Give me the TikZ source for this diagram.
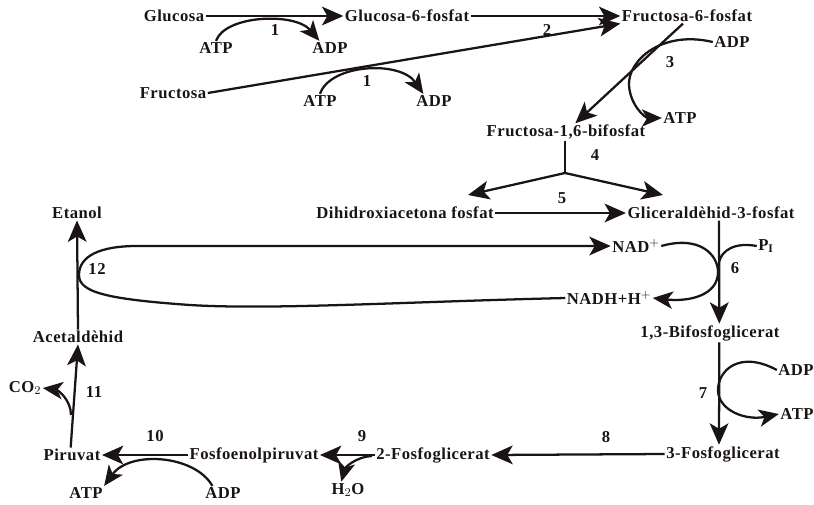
\documentclass[tikz,border=0pt]{standalone}
\usepackage{fontspec}
\setmainfont{Liberation Serif}[LetterSpace=3]
\usepackage{tikz}
\usetikzlibrary{
  arrows.meta,
  positioning,
  calc
}
\definecolor{glInk}{HTML}{1A1414}
\tikzset{
  met/.style={font=\fontsize{12.5}{14}\selectfont\bfseries, inner sep=1pt, text=glInk},
  cof/.style={met},
  num/.style={met},
  react/.style={-{Stealth[length=16pt, width=14pt, inset=4pt]}, line width=1.7pt, glInk},
  side/.style={-{Stealth[length=15pt, width=13pt, inset=4pt]}, line width=1.7pt, glInk},
  plain/.style={line width=1.7pt, glInk}
}

\begin{document}
\begin{tikzpicture}[x=0.75pt, y=-0.75pt]
  \useasboundingbox (0,0) rectangle (814,504);
  \node[met] (glc) at (174,16) {Glucosa};
  \node[met] (g6p) at (407,16) {Glucosa-6-fosfat};
  \node[met] (f6p) at (687,16) {Fructosa-6-fosfat};
  \node[met] (fru) at (173,93) {Fructosa};
  \node[met] (f16) at (566,132) {Fructosa-1,6-bifosfat};
  \node[met] (dhap) at (405,213) {Dihidroxiacetona fosfat};
  \node[met] (g3p) at (711,213) {Gliceraldèhid-3-fosfat};
  \node[met] (bpg) at (710,333) {1,3-Bifosfoglicerat};
  \node[met] (pg3) at (723,454) {3-Fosfoglicerat};
  \node[met] (pg2) at (433,455) {2-Fosfoglicerat};
  \node[met] (pep) at (254,455) {Fosfoenolpiruvat};
  \node[met] (pyr) at (72,455) {Piruvat};
  \node[met] (ace) at (78,337) {Acetaldèhid};
  \node[met] (eta) at (77,213) {Etanol};

  \node[cof] (atpa) at (216,48) {ATP};
  \node[cof] (adpa) at (330,48) {ADP};
  \node[cof] (atpb) at (320,101) {ATP};
  \node[cof] (adpb) at (434,101) {ADP};
  \node[cof] (adpc) at (732,42) {ADP};
  \node[cof] (atpc) at (680,118) {ATP};
  \node[cof] (nad) at (636,246) {NAD$^{+}$};
  \node[cof] (pi) at (766,246) {P\textsubscript{I}};
  \node[cof] (nadh) at (609,298) {NADH+H$^{+}$};
  \node[cof] (adpd) at (796,370) {ADP};
  \node[cof] (atpd) at (797,414) {ATP};
  \node[cof] (h2o) at (348,490) {H$_2$O};
  \node[cof] (adpe) at (223,493) {ADP};
  \node[cof] (atpe) at (86,493) {ATP};
  \node[cof] (co2) at (25,388) {CO$_2$};

  \node[num] (n1a) at (275,30) {1};
  \node[num] (n1b) at (367,81) {1};
  \node[num] (n2) at (547,30) {2};
  \node[num] (n3) at (670,62) {3};
  \node[num] (n4) at (595,155) {4};
  \node[num] (n5) at (562,198) {5};
  \node[num] (n6) at (735,268) {6};
  \node[num] (n7) at (703,393) {7};
  \node[num] (n8) at (606,437) {8};
  \node[num] (n9) at (362,436) {9};
  \node[num] (n10) at (155,436) {10};
  \node[num] (n11) at (94,392) {11};
  \node[num] (n12) at (97,269) {12};

  \coordinate (br) at (565,173);
  \coordinate (tipl) at (468,195);
  \coordinate (tipr) at (663,195);
  \coordinate (pj) at (719,262);
  \coordinate (hw) at (372,456);
  \coordinate (cj) at (71,415);

  \draw[react] (glc.east) -- (g6p.west);
  \draw[side] (atpa.north) .. controls (225,15) and (295,12) .. ([xshift=-8pt]adpa.north);
  \draw[react] (g6p.east) -- (f6p.west);
  \draw[react] (fru.east) -- (f6p.south west);
  \draw[side] (atpb.north) .. controls (330,64) and (400,60) .. ([xshift=-8pt]adpb.north);
  \draw[react] ([xshift=-3pt]f6p.south) -- ([xshift=7pt]f16.north);
  \draw[side] (adpc.west) .. controls (662,30) and (628,60) .. (629,85)
    .. controls (630,105) and (645,118) .. (atpc.west);
  \draw[plain] (f16.south -| br) -- (br);
  \draw[react] (br) -- (tipl);
  \draw[react] (br) -- (tipr);
  \draw[react] (dhap.east) -- (g3p.west);
  \draw[react] ([xshift=6pt]g3p.south) -- ([xshift=7pt]bpg.north);
  \draw[side] (nad.east) .. controls (700,235) and (718,255) .. (718,272)
    .. controls (718,295) and (690,302) .. (nadh.east);
  \draw[plain] (pi.west) .. controls (735,242) and (722,250) .. (pj);
  \draw[react] (nadh.west) .. controls (400,302) and (270,310) .. (190,305)
    .. controls (105,299) and (79,292) .. (79,275)
    .. controls (79,256) and (100,246) .. (137,246) -- (nad.west);
  \draw[react] ([xshift=7pt]bpg.south) -- ([xshift=-3pt]pg3.north);
  \draw[side] (adpd.west) .. controls (740,350) and (718,370) .. (718,390)
    .. controls (718,410) and (745,421) .. (atpd.west);
  \draw[react] (pg3.west) -- (pg2.east);
  \draw[react] (pg2.west) -- (pep.east);
  \draw[side] (hw) .. controls (355,457) and (345,468) .. ([xshift=-5pt]h2o.north);
  \draw[react] (pep.west) -- (pyr.east);
  \draw[side] ([xshift=-8pt]adpe.north) .. controls (195,455) and (130,450) .. (atpe.north east);
  \draw[react] ([xshift=-1pt]pyr.north) -- (ace.south);
  \draw[side] (cj) .. controls (71,400) and (58,390) .. (co2.east);
  \draw[react] (ace.north) -- (eta.south);
\end{tikzpicture}
\end{document}
